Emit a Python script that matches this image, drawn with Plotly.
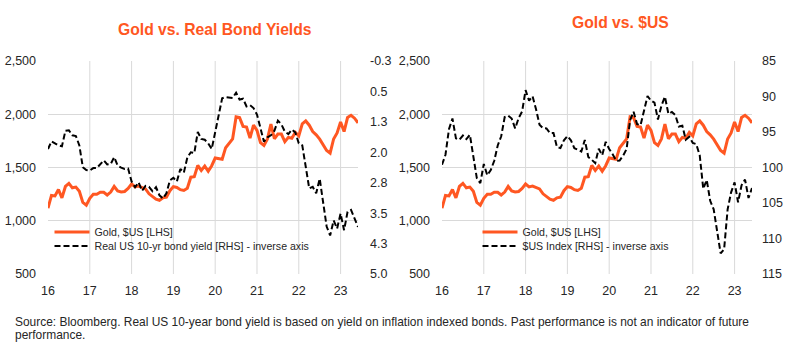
import plotly.graph_objects as go
import pandas as pd

# ---------------- data ----------------
months = pd.date_range("2016-01-01", periods=90, freq="MS").strftime("%b %y").tolist()
year_ticks = months[::12]
year_labels = ["16", "17", "18", "19", "20", "21", "22", "23"]

gold = [1118, 1238, 1233, 1293, 1215, 1322, 1351, 1309, 1316, 1277, 1173, 1146,
        1211, 1249, 1249, 1268, 1268, 1242, 1269, 1322, 1280, 1271, 1275, 1303,
        1345, 1318, 1325, 1315, 1299, 1253, 1224, 1202, 1192, 1215, 1222, 1282,
        1321, 1313, 1292, 1284, 1305, 1409, 1414, 1520, 1472, 1513, 1464, 1517,
        1589, 1585, 1577, 1686, 1730, 1768, 1975, 1968, 1886, 1879, 1777, 1898,
        1848, 1734, 1708, 1769, 1907, 1770, 1814, 1814, 1743, 1783, 1775, 1829,
        1797, 1909, 1937, 1897, 1838, 1807, 1766, 1711, 1660, 1634, 1768, 1824,
        1928, 1837, 1969, 1990, 1963, 1919]

bond_yield = [1.92, 1.73, 1.78, 1.83, 1.85, 1.47, 1.46, 1.58, 1.60, 1.83, 2.37, 2.44,
              2.45, 2.39, 2.39, 2.28, 2.20, 2.30, 2.29, 2.12, 2.33, 2.38, 2.41, 2.40,
              2.72, 2.86, 2.74, 2.95, 2.83, 2.85, 2.96, 2.86, 3.06, 3.14, 3.01, 2.69,
              2.63, 2.72, 2.41, 2.50, 2.13, 2.00, 2.02, 1.50, 1.67, 1.69, 1.78, 1.92,
              1.51, 1.15, 0.67, 0.64, 0.65, 0.66, 0.53, 0.70, 0.68, 0.87, 0.84, 0.91,
              1.07, 1.40, 1.74, 1.63, 1.58, 1.47, 1.22, 1.31, 1.49, 1.55, 1.44, 1.51,
              1.78, 1.83, 2.32, 2.89, 2.85, 3.01, 2.65, 3.19, 3.83, 4.05, 3.68, 3.88,
              3.51, 3.92, 3.47, 3.42, 3.64, 3.84]

usd_index = [99.61, 98.20, 94.60, 93.10, 95.90, 96.10, 95.50, 96.00, 95.40, 98.40, 101.50, 102.20,
             99.50, 101.10, 100.35, 99.05, 96.90, 95.60, 92.90, 92.70, 93.10, 94.50, 93.05, 92.10,
             89.10, 90.60, 89.97, 91.80, 93.98, 94.47, 94.50, 95.14, 95.13, 97.13, 97.27, 96.17,
             95.58, 96.16, 97.28, 97.48, 97.75, 96.13, 98.52, 98.92, 99.38, 97.35, 98.27, 96.39,
             97.39, 98.13, 99.05, 99.02, 98.34, 97.39, 93.35, 92.14, 93.89, 94.04, 91.87, 89.94,
             90.58, 90.88, 93.23, 91.28, 90.03, 92.44, 92.17, 92.63, 94.23, 94.12, 96.09, 95.67,
             96.54, 96.71, 98.31, 103.00, 101.75, 104.69, 105.90, 108.70, 112.10, 111.50, 105.90, 103.50,
             102.10, 104.90, 102.50, 101.70, 104.30, 102.90]

yield_ticks = [-0.25, 0.5, 1.25, 2.0, 2.75, 3.5, 4.25, 5.0]
yield_labels = ["-0.3", "0.5", "1.3", "2.0", "2.8", "3.5", "4.3", "5.0"]

# ---------------- styling ----------------
W, H = 788, 357
ORANGE = "#FF5722"
GRID = "#D9D9D9"
TXT = "#262626"
FONT = "Liberation Sans, Arial, sans-serif"

def px_x(p):
    return p / W

def px_y(p):
    return 1 - p / H

left_dom = [px_x(48), px_x(358)]
right_dom = [px_x(442), px_x(752)]
y_dom = [px_y(274), px_y(61)]

fig = go.Figure()

gold_line = dict(color=ORANGE, width=3)
dash_line = dict(color="black", width=2, dash="6px,3px")

fig.add_trace(go.Scatter(x=months, y=gold, xaxis="x", yaxis="y", mode="lines",
                         line=gold_line, name="Gold, $US [LHS]", legend="legend"))
fig.add_trace(go.Scatter(x=months, y=bond_yield, xaxis="x", yaxis="y2", mode="lines",
                         line=dash_line, name="Real US 10-yr bond yield [RHS] - inverse axis",
                         legend="legend2"))
fig.add_trace(go.Scatter(x=months, y=gold, xaxis="x2", yaxis="y3", mode="lines",
                         line=gold_line, name="Gold, $US [LHS]", legend="legend3"))
fig.add_trace(go.Scatter(x=months, y=usd_index, xaxis="x2", yaxis="y4", mode="lines",
                         line=dash_line, name="$US Index [RHS] - inverse axis",
                         legend="legend4"))

tickfont = dict(family=FONT, size=12.5, color=TXT)

xcommon = dict(type="category", categoryorder="array", categoryarray=months,
               range=[0, 89], tickmode="array", tickvals=year_ticks, ticktext=year_labels,
               showgrid=False, showline=False, zeroline=False,
               ticks="", tickfont=tickfont, ticklabelstandoff=7)
gold_axis = dict(range=[500, 2500], dtick=500, tickformat=",", showgrid=True,
                 gridcolor=GRID, gridwidth=1, zeroline=False, showline=False, ticks="",
                 tickfont=tickfont, ticklabelstandoff=11)

legend_common = dict(bgcolor="rgba(0,0,0,0)", borderwidth=0, xanchor="left", yanchor="middle",
                     font=dict(family=FONT, size=10.6, color=TXT), itemwidth=35)

fig.update_layout(
    width=W, height=H,
    margin=dict(l=0, r=0, t=0, b=0, pad=0, autoexpand=False),
    paper_bgcolor="white", plot_bgcolor="white",
    font=dict(family=FONT, color=TXT),
    xaxis=dict(domain=left_dom, anchor="y", **xcommon),
    yaxis=dict(domain=y_dom, anchor="x", **gold_axis),
    yaxis2=dict(domain=y_dom, anchor="x", overlaying="y", side="right",
                range=[5.0, -0.25], tickmode="array", tickvals=yield_ticks,
                ticktext=yield_labels, showgrid=False, zeroline=False, showline=False,
                ticks="", tickfont=tickfont, ticklabelstandoff=11),
    xaxis2=dict(domain=right_dom, anchor="y3", **xcommon),
    yaxis3=dict(domain=y_dom, anchor="x2", **gold_axis),
    yaxis4=dict(domain=y_dom, anchor="x2", overlaying="y3", side="right",
                range=[115, 85], dtick=5, showgrid=False, zeroline=False, showline=False,
                ticks="", tickfont=tickfont, ticklabelstandoff=9),
    legend=dict(x=px_x(49.5), y=px_y(232), **legend_common),
    legend2=dict(x=px_x(49.5), y=px_y(246), **legend_common),
    legend3=dict(x=px_x(477.5), y=px_y(232), **legend_common),
    legend4=dict(x=px_x(477.5), y=px_y(246), **legend_common),
    showlegend=True,
)

# vertical year gridlines (not at the left edge, as in the original)
for xa, ya in (("x", "y"), ("x2", "y3")):
    for t in year_ticks[1:]:
        fig.add_shape(type="line", xref=xa, yref=ya + " domain", x0=t, x1=t, y0=0, y1=1,
                      line=dict(color=GRID, width=1), layer="below")

title_font = dict(family=FONT, size=15.7, color=ORANGE, weight="bold")
fig.add_annotation(text="Gold vs. Real Bond Yields", x=px_x(215), y=px_y(29),
                   xref="paper", yref="paper", xanchor="center", yanchor="middle",
                   showarrow=False, font=title_font)
fig.add_annotation(text="Gold vs. $US", x=px_x(620), y=px_y(22),
                   xref="paper", yref="paper", xanchor="center", yanchor="middle",
                   showarrow=False, font=title_font)

src_font = dict(family=FONT, size=11.95, color=TXT)
fig.add_annotation(text="Source: Bloomberg. Real US 10-year bond yield is based on yield on inflation "
                        "indexed bonds. Past performance is not an indicator of future",
                   x=px_x(13), y=px_y(322), xref="paper", yref="paper",
                   xanchor="left", yanchor="middle", showarrow=False, font=src_font)
fig.add_annotation(text="performance.", x=px_x(13), y=px_y(335), xref="paper", yref="paper",
                   xanchor="left", yanchor="middle", showarrow=False, font=src_font)

fig.write_html("out.html", config={"displayModeBar": False},
               post_script="document.body.style.margin='0';document.body.style.overflow='hidden';")
